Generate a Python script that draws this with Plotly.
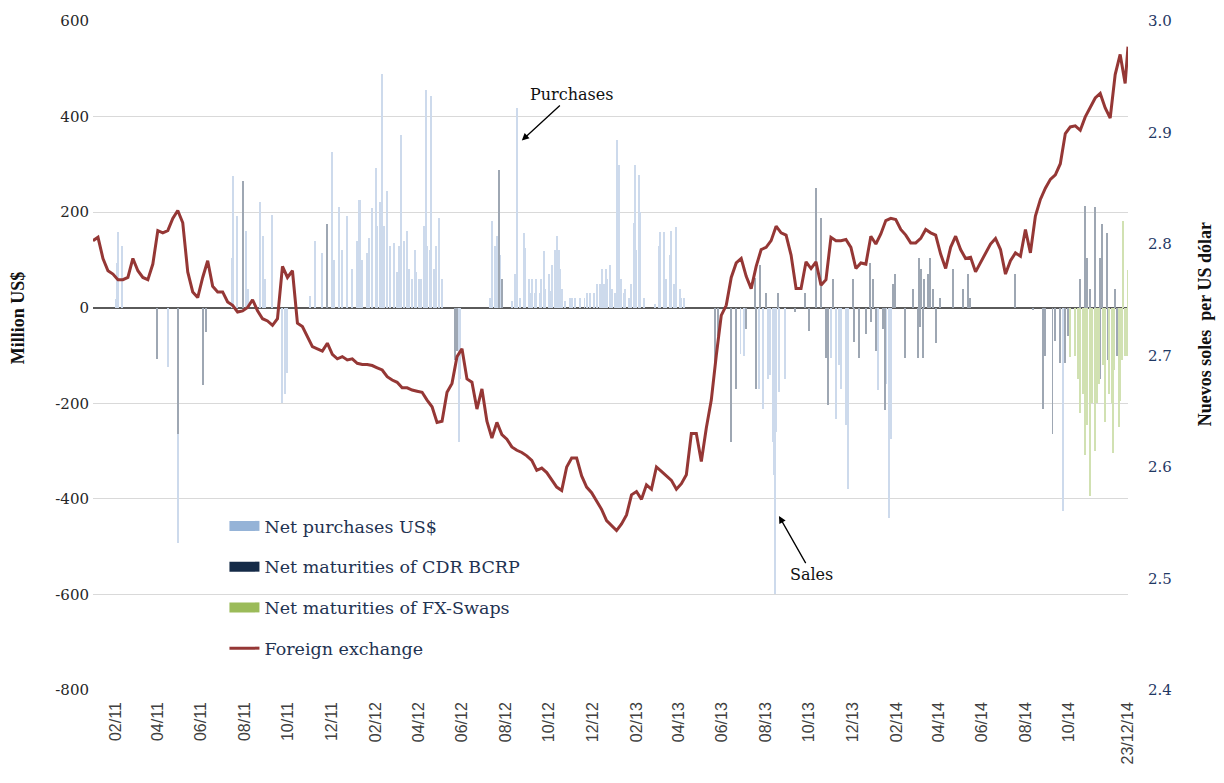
import pandas as pd
import plotly.graph_objects as go

# ---------------- data ----------------
# weekly foreign-exchange readings (Nuevos soles per US dollar)
fx_dates = list(pd.date_range("2010-12-31", periods=208, freq="7D").strftime("%Y-%m-%d")) + ["2014-12-23"]
fx_values = [
    2.803, 2.806, 2.787, 2.776, 2.773, 2.768, 2.768, 2.770, 2.787, 2.776,
    2.770, 2.768, 2.782, 2.812, 2.810, 2.812, 2.823, 2.830, 2.819, 2.775,
    2.757, 2.752, 2.770, 2.785, 2.762, 2.757, 2.757, 2.748, 2.745, 2.739,
    2.740, 2.743, 2.750, 2.740, 2.733, 2.731, 2.727, 2.733, 2.780, 2.770,
    2.776, 2.729, 2.726, 2.717, 2.708, 2.706, 2.704, 2.711, 2.701, 2.697,
    2.699, 2.696, 2.697, 2.693, 2.692, 2.692, 2.691, 2.689, 2.687, 2.681,
    2.678, 2.676, 2.671, 2.671, 2.669, 2.668, 2.667, 2.660, 2.654, 2.640,
    2.641, 2.667, 2.675, 2.699, 2.706, 2.679, 2.676, 2.652, 2.670, 2.641,
    2.626, 2.640, 2.629, 2.625, 2.618, 2.615, 2.613, 2.610, 2.606, 2.597,
    2.599, 2.595, 2.588, 2.582, 2.579, 2.600, 2.608, 2.608, 2.592, 2.582,
    2.577, 2.569, 2.562, 2.552, 2.547, 2.543, 2.549, 2.557, 2.575, 2.578,
    2.571, 2.584, 2.580, 2.600, 2.596, 2.592, 2.588, 2.580, 2.585, 2.593,
    2.630, 2.630, 2.605, 2.635, 2.660, 2.700, 2.736, 2.745, 2.770, 2.783,
    2.787, 2.771, 2.760, 2.780, 2.795, 2.797, 2.803, 2.816, 2.810, 2.808,
    2.790, 2.760, 2.760, 2.784, 2.778, 2.784, 2.763, 2.768, 2.806, 2.803,
    2.803, 2.804, 2.797, 2.778, 2.783, 2.782, 2.807, 2.800, 2.809, 2.821,
    2.823, 2.822, 2.813, 2.808, 2.801, 2.801, 2.805, 2.813, 2.810, 2.808,
    2.791, 2.778, 2.797, 2.807, 2.795, 2.787, 2.788, 2.775, 2.783, 2.791,
    2.800, 2.805, 2.795, 2.773, 2.785, 2.792, 2.789, 2.813, 2.792, 2.825,
    2.840, 2.850, 2.858, 2.862, 2.872, 2.899, 2.905, 2.906, 2.902, 2.914,
    2.923, 2.931, 2.935, 2.922, 2.913, 2.952, 2.970, 2.944, 2.977,
]

# Net purchases US$ (million US$; negative = sales)
purchase_dates = [
    "2011-02-01", "2011-02-02", "2011-02-04", "2011-02-10", "2011-04-15", "2011-04-29",
    "2011-07-14", "2011-07-15", "2011-07-21", "2011-08-03", "2011-08-05", "2011-08-22",
    "2011-08-26", "2011-08-29", "2011-09-08", "2011-09-09", "2011-09-22", "2011-09-26",
    "2011-09-30", "2011-10-31", "2011-11-08", "2011-11-18", "2011-12-02", "2011-12-05",
    "2011-12-12", "2011-12-16", "2011-12-22", "2011-12-23", "2011-12-29", "2012-01-05",
    "2012-01-09", "2012-01-10", "2012-01-13", "2012-01-19", "2012-01-23", "2012-01-27",
    "2012-02-01", "2012-02-03", "2012-02-07", "2012-02-10", "2012-02-13", "2012-02-17",
    "2012-02-21", "2012-02-27", "2012-03-02", "2012-03-05", "2012-03-08", "2012-03-12",
    "2012-03-16", "2012-03-19", "2012-03-23", "2012-03-27", "2012-03-29", "2012-04-02",
    "2012-04-05", "2012-04-09", "2012-04-11", "2012-04-13", "2012-04-17", "2012-04-19",
    "2012-04-23", "2012-04-26", "2012-04-30", "2012-05-04", "2012-05-28", "2012-05-29",
    "2012-07-10", "2012-07-13", "2012-07-17", "2012-07-20", "2012-07-24", "2012-08-10",
    "2012-08-14", "2012-08-17", "2012-08-22", "2012-08-27", "2012-08-29", "2012-09-03",
    "2012-09-04", "2012-09-07", "2012-09-11", "2012-09-13", "2012-09-18", "2012-09-20",
    "2012-09-24", "2012-09-26", "2012-10-01", "2012-10-04", "2012-10-05", "2012-10-09",
    "2012-10-12", "2012-10-15", "2012-10-17", "2012-10-19", "2012-10-24", "2012-10-30",
    "2012-11-02", "2012-11-07", "2012-11-13", "2012-11-20", "2012-11-23", "2012-11-28",
    "2012-12-03", "2012-12-07", "2012-12-12", "2012-12-14", "2012-12-17", "2012-12-20",
    "2012-12-21", "2012-12-26", "2012-12-28", "2013-01-02", "2013-01-04", "2013-01-07",
    "2013-01-10", "2013-01-14", "2013-01-16", "2013-01-21", "2013-01-24", "2013-01-28",
    "2013-01-30", "2013-02-01", "2013-02-05", "2013-02-06", "2013-02-11", "2013-02-27",
    "2013-03-04", "2013-03-06", "2013-03-11", "2013-03-13", "2013-03-15", "2013-03-20",
    "2013-03-22", "2013-03-26", "2013-03-29", "2013-04-03", "2013-04-05", "2013-04-08",
    "2013-06-27", "2013-07-02", "2013-07-23", "2013-07-29", "2013-08-05", "2013-08-08",
    "2013-08-12", "2013-08-13", "2013-08-14", "2013-08-16", "2013-08-20", "2013-08-28",
    "2013-11-01", "2013-11-08", "2013-11-12", "2013-11-15", "2013-11-22", "2013-11-25",
    "2014-01-06", "2014-01-17", "2014-01-21", "2014-01-24", "2014-09-23",
]
purchase_values = [
    18, 94, 158, 130, -124, -492,
    105, 275, 192, 160, 40, 222,
    150, 60, 195, 90, -200, -180,
    -136, 25, 140, 115, 325, 100,
    210, 120, 192, 115, 80, 140,
    225, 226, 100, 115, 146, 208,
    292, 170, 222, 490, 170, 245,
    130, 135, 75, 130, 361, 140,
    160, 80, 60, 120, 75, 60,
    60, 170, 455, 130, 120, 444,
    80, 130, 188, 60, -280, -150,
    20, 181, 130, 150, 110, 15,
    70, 417, 20, 156, 125, 60,
    30, 60, 30, 60, 30, 60,
    118, 40, 70, 35, 90, 120,
    150, 120, 80, 40, 15, 20,
    20, 20, 20, 20, 30, 30,
    30, 50, 50, 80, 50, 80,
    60, 90, 40, 30, 350, 299,
    60, 30, 40, 20, 50, 177,
    299, 120, 278, 200, 20, 8,
    130, 158, 158, 30, 60, 110,
    160, 50, 169, 40, 20, 20,
    -97, -100, -170, -211, -150, -140,
    -280, -350, -600, -260, -176, -150,
    -106, -232, -120, -170, -246, -380,
    -173, -160, -441, -274, -426,
]

# Net maturities of CDR BCRP (million US$)
cdr_dates = [
    "2011-03-31", "2011-04-29", "2011-06-03", "2011-06-07", "2011-07-29", "2011-11-24",
    "2012-05-22", "2012-05-25", "2012-07-23", "2012-07-27", "2013-05-22", "2013-05-27",
    "2013-06-14", "2013-06-20", "2013-07-05", "2013-07-17", "2013-07-19", "2013-07-24",
    "2013-08-02", "2013-08-19", "2013-09-12", "2013-09-26", "2013-10-01", "2013-10-11",
    "2013-10-18", "2013-10-25", "2013-10-28", "2013-11-04", "2013-12-02", "2013-12-03",
    "2013-12-11", "2013-12-20", "2013-12-26", "2013-12-27", "2013-12-30", "2014-01-03",
    "2014-01-13", "2014-01-16", "2014-01-27", "2014-01-30", "2014-02-13", "2014-02-24",
    "2014-03-03", "2014-03-04", "2014-03-06", "2014-03-07", "2014-03-10", "2014-03-11",
    "2014-03-17", "2014-03-20", "2014-03-24", "2014-03-28", "2014-04-03", "2014-04-21",
    "2014-05-05", "2014-05-12", "2014-05-15", "2014-07-18", "2014-08-12", "2014-08-25",
    "2014-08-28", "2014-09-08", "2014-09-12", "2014-09-19", "2014-09-26", "2014-09-30",
    "2014-10-17", "2014-10-24", "2014-10-27", "2014-10-31", "2014-11-07", "2014-11-13",
    "2014-11-14", "2014-11-17", "2014-11-19", "2014-11-24", "2014-11-25", "2014-12-05",
    "2014-12-08",
]
cdr_values = [
    -107, -265, -162, -50, 265, 175,
    -110, -90, 288, 60, -114, -60,
    -280, -170, -45, 63, -170, 90,
    30, 30, -10, 30, -48, 250,
    188, -106, -203, 60, 60, -72,
    -106, -56, 94, -30, 60, -90,
    -45, -213, 50, 70, -106, 40,
    -106, 105, -40, 80, -106, 60,
    70, 105, 40, -73, 20, 80,
    40, 70, 20, 70, -5, -211,
    -100, -264, -70, -115, -115, -60,
    60, 212, 105, 40, 210, 105,
    -150, 175, -106, 156, -110, 40,
    -100,
]

# Net maturities of FX-Swaps (million US$)
swap_dates = [
    "2014-10-03", "2014-10-09", "2014-10-14", "2014-10-16", "2014-10-21", "2014-10-24",
    "2014-10-27", "2014-10-30", "2014-11-03", "2014-11-06", "2014-11-07", "2014-11-10",
    "2014-11-12", "2014-11-18", "2014-11-21", "2014-11-26", "2014-12-01", "2014-12-02",
    "2014-12-04", "2014-12-10", "2014-12-12", "2014-12-15", "2014-12-16", "2014-12-19",
    "2014-12-22", "2014-12-23",
]
swap_values = [
    -104, -100, -150, -220, -180, -308,
    -246, -395, -200, -295, -300, -200,
    -160, -120, -240, -180, -200, -305,
    -130, -250, -196, -110, 181, -100,
    -100, 78,
]

tick_dates = [
    "2011-02-01", "2011-04-01", "2011-06-01", "2011-08-01", "2011-10-01", "2011-12-01",
    "2012-02-01", "2012-04-01", "2012-06-01", "2012-08-01", "2012-10-01", "2012-12-01",
    "2013-02-01", "2013-04-01", "2013-06-01", "2013-08-01", "2013-10-01", "2013-12-01",
    "2014-02-01", "2014-04-01", "2014-06-01", "2014-08-01", "2014-10-01", "2014-12-23",
]
tick_labels = [
    "02/11", "04/11", "06/11", "08/11", "10/11", "12/11",
    "02/12", "04/12", "06/12", "08/12", "10/12", "12/12",
    "02/13", "04/13", "06/13", "08/13", "10/13", "12/13",
    "02/14", "04/14", "06/14", "08/14", "10/14", "23/12/14",
]
left_ticks = [-800, -600, -400, -200, 0, 200, 400, 600]
left_labels = ["-800", "-600", "-400", "-200", "0", "200", "400", "600"]

# ---------------- figure ----------------
DAY = 86400000
SERIF = "DejaVu Serif, Liberation Serif, serif"
fig = go.Figure()

bar_style = [
    (purchase_dates, purchase_values, "#cddaec"),
    (cdr_dates, cdr_values, "#9ea7b3"),
    (swap_dates, swap_values, "#d1e1b2"),
]
for xs, ys, col in bar_style:
    fig.add_trace(go.Bar(x=xs, y=ys, marker=dict(color=col, line=dict(width=0)),
                         width=1.4 * DAY, showlegend=False, hoverinfo="x+y"))

legend_items = [
    ("Net purchases US$", "#95B3D7"),
    ("Net maturities of CDR BCRP", "#142a47"),
    ("Net maturities of FX-Swaps", "#9BBB59"),
]
for i, (name, col) in enumerate(legend_items):
    fig.add_trace(go.Scatter(x=[None], y=[None], mode="lines", name=name,
                             line=dict(color=col, width=10), legendgroup=f"g{i}",
                             legendrank=i + 1))

fig.add_trace(go.Scatter(x=fx_dates, y=fx_values, mode="lines", name="Foreign exchange",
                         line=dict(color="#953735", width=3), yaxis="y2",
                         legendgroup="g3", legendrank=4))

fig.update_layout(
    width=1224, height=783, autosize=False,
    margin=dict(l=93, r=96, t=17, b=93),
    paper_bgcolor="white", plot_bgcolor="white",
    barmode="overlay", bargap=0,
    showlegend=True,
    legend=dict(x=0.127, y=0.272, xanchor="left", yanchor="top",
                font=dict(family=SERIF, size=17.5, color="#1f3352"),
                bgcolor="rgba(0,0,0,0)", tracegroupgap=15, itemwidth=30,
                traceorder="grouped"),
    xaxis=dict(type="date", range=["2010-12-31", "2014-12-23"],
               tickmode="array", tickvals=tick_dates, ticktext=tick_labels,
               tickangle=-90, showgrid=False, zeroline=False, showline=False,
               ticks="", ticklabelstandoff=8,
               tickfont=dict(family="Liberation Sans, Arial, sans-serif", size=16, color="#404040")),
    yaxis=dict(range=[-800, 600], tickmode="array", tickvals=left_ticks, ticktext=left_labels,
               showgrid=True, gridcolor="#d9d9d9", gridwidth=1.3,
               zeroline=True, zerolinecolor="#5a5a5a", zerolinewidth=1.6,
               showline=False, ticks="", ticklabelstandoff=3,
               tickfont=dict(family=SERIF, size=15, color="#262626")),
    yaxis2=dict(range=[2.4, 3.0], dtick=0.1, tick0=2.4, tickformat=".1f",
                overlaying="y", side="right", showgrid=False, zeroline=False,
                showline=False, ticks="", ticklabelstandoff=19,
                tickfont=dict(family=SERIF, size=15, color="#1f3864")),
    annotations=[
        dict(text="<b>Million US$</b>", xref="paper", yref="paper",
             x=-0.0725, y=0.557, xanchor="center", yanchor="middle",
             textangle=-90, showarrow=False,
             font=dict(family="Liberation Serif, serif", size=18, color="#111111")),
        dict(text="<b>Nuevos soles  per US dólar</b>", xref="paper", yref="paper",
             x=1.0745, y=0.547, xanchor="center", yanchor="middle",
             textangle=-90, showarrow=False,
             font=dict(family="Liberation Serif, serif", size=18, color="#111111")),
        dict(text="Purchases", x="2012-08-24", y=350, xref="x", yref="y",
             ax=50, ay=-46, showarrow=True, arrowhead=2, arrowsize=1.1,
             arrowwidth=1.3, arrowcolor="#000000",
             font=dict(family=SERIF, size=16, color="#111111")),
        dict(text="Sales", x="2013-08-20", y=-436, xref="x", yref="y",
             ax=33, ay=58, showarrow=True, arrowhead=2, arrowsize=1.1,
             arrowwidth=1.3, arrowcolor="#000000",
             font=dict(family=SERIF, size=16, color="#111111")),
    ],
)

fig.write_html("out.html", config={"displayModeBar": False},
               post_script="document.body.style.margin='0px';")
